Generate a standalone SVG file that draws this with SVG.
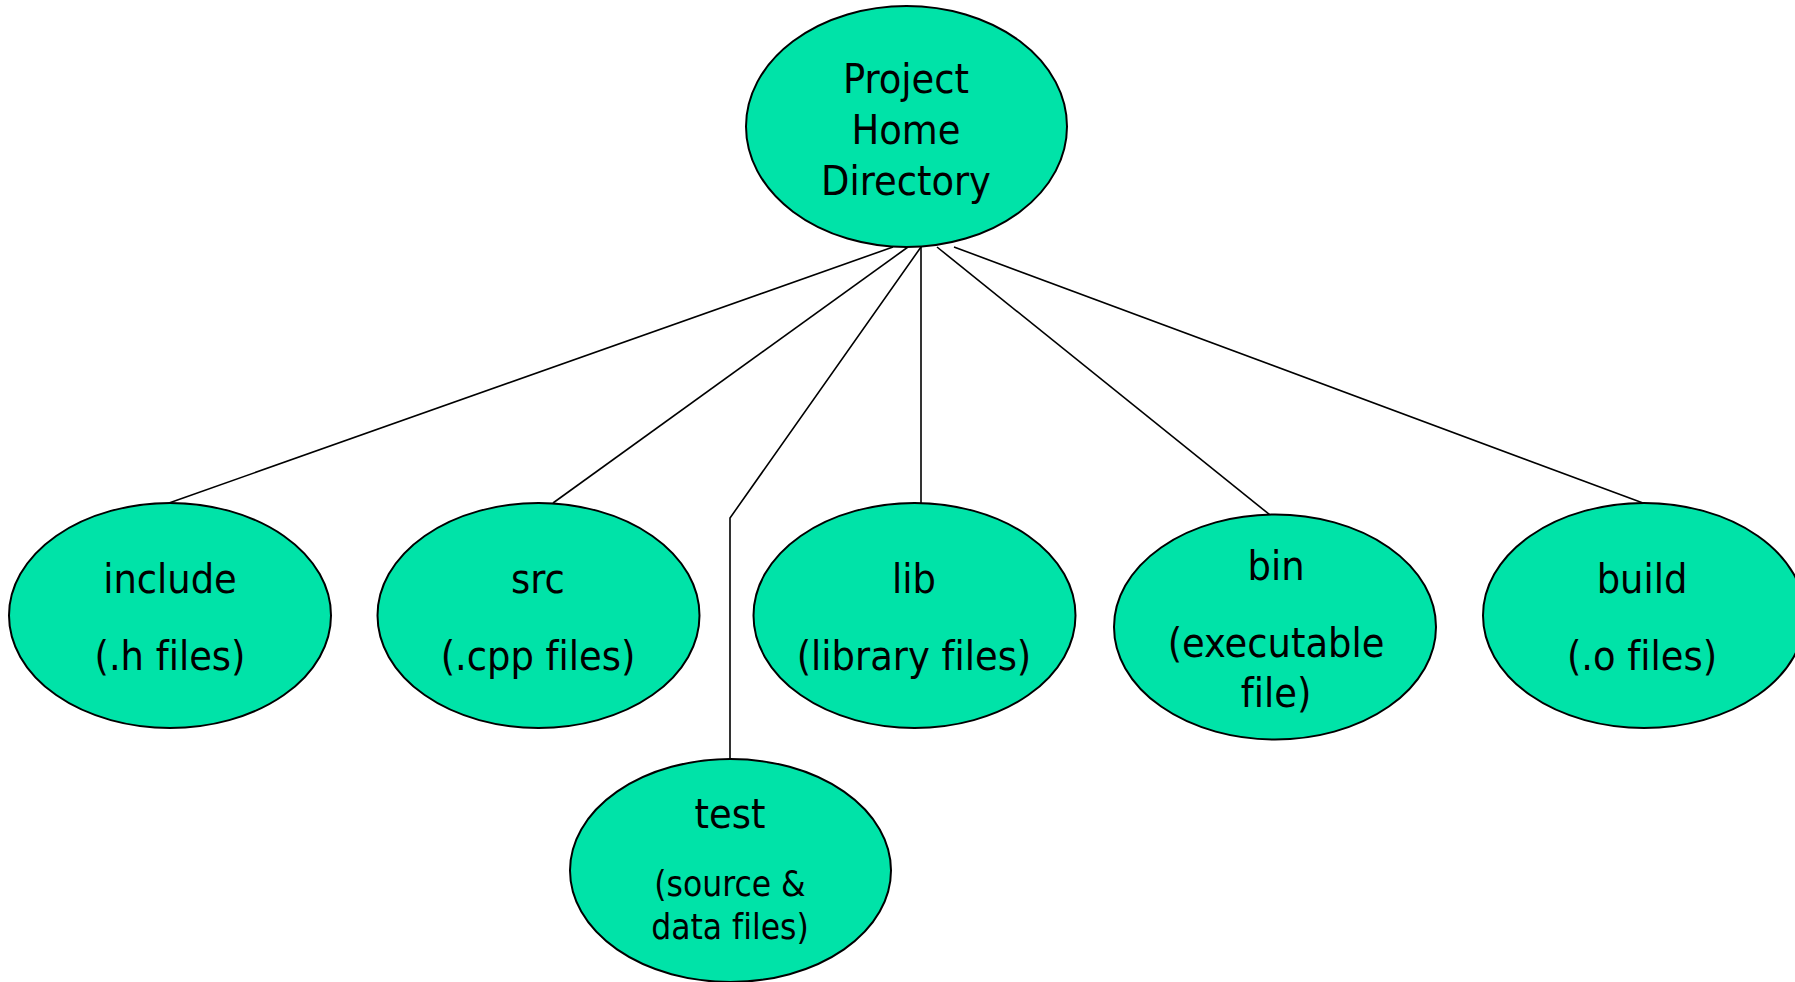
<svg xmlns="http://www.w3.org/2000/svg" width="1795" height="982" viewBox="0 0 1795 982">
<style>
.n{fill:#00E3A8;stroke:#000;stroke-width:2}
.t{font-family:"DejaVu Sans Condensed","DejaVu Sans","Liberation Sans",sans-serif;font-stretch:condensed;font-size:41px;fill:#000;text-anchor:middle;font-variant-ligatures:none}
.s{font-size:35px}
.c{fill:none;stroke:#000;stroke-width:1.6}
</style>
<rect width="1795" height="982" fill="#fff"/>
<g id="connectors">
<line class="c" x1="893" y1="247" x2="169" y2="503"/>
<line class="c" x1="908" y1="247" x2="553" y2="503"/>
<polyline class="c" points="921,247 730,518 730,759"/>
<line class="c" x1="921" y1="247" x2="921" y2="503"/>
<line class="c" x1="937" y1="247" x2="1275" y2="519"/>
<line class="c" x1="954" y1="247" x2="1643" y2="503"/>
</g>
<g id="root">
<ellipse class="n" cx="906.5" cy="126.5" rx="160.5" ry="120.5"/>
<text class="t" x="906" y="93">Project</text>
<text class="t" x="906" y="144">Home</text>
<text class="t" x="906" y="195">Directory</text>
</g>
<g id="include">
<ellipse class="n" cx="170" cy="615.5" rx="161" ry="112.5"/>
<text class="t" x="170" y="593">include</text>
<text class="t" x="170" y="670">(.h files)</text>
</g>
<g id="src">
<ellipse class="n" cx="538.5" cy="615.5" rx="161" ry="112.5"/>
<text class="t" x="538" y="593">src</text>
<text class="t" x="538" y="670">(.cpp files)</text>
</g>
<g id="lib">
<ellipse class="n" cx="914.5" cy="615.5" rx="161" ry="112.5"/>
<text class="t" x="914" y="593">lib</text>
<text class="t" x="914" y="670">(library files)</text>
</g>
<g id="bin">
<ellipse class="n" cx="1275" cy="627" rx="161" ry="112.5"/>
<text class="t" x="1276" y="580">bin</text>
<text class="t" x="1276" y="657">(executable</text>
<text class="t" x="1276" y="707">file)</text>
</g>
<g id="build">
<ellipse class="n" cx="1644" cy="615.5" rx="161" ry="112.5"/>
<text class="t" x="1642" y="593">build</text>
<text class="t" x="1642" y="670">(.o files)</text>
</g>
<g id="test">
<ellipse class="n" cx="730.5" cy="870.5" rx="160.5" ry="111.5"/>
<text class="t" x="730" y="828">test</text>
<text class="t s" x="730" y="896">(source &amp;</text>
<text class="t s" x="730" y="939">data files)</text>
</g>
</svg>
